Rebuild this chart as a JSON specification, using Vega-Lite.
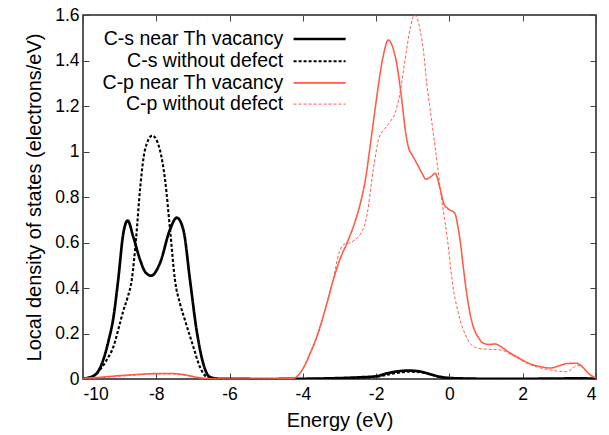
{
  "$schema": "https://vega.github.io/schema/vega-lite/v6.json",
  "width": 513,
  "height": 364,
  "autosize": "none",
  "padding": {"left": 83, "top": 15, "right": 13, "bottom": 56},
  "config": {
    "font": "Liberation Sans",
    "view": {"stroke": "#222222", "strokeWidth": 1.5},
    "axis": {"grid": false, "domain": false, "tickColor": "#444444", "tickWidth": 1, "labelFont": "Liberation Sans", "titleFont": "Liberation Sans", "labelFontSize": 17.5, "titleFontSize": 20, "labelColor": "#000", "titleColor": "#000", "titleFontWeight": "normal"},
    "legend": {"labelFontSize": 19.5, "labelFont": "Liberation Sans", "labelColor": "#000", "labelLimit": 400}
  },
  "datasets": {
    "dos": [
      {"e": -10, "v": 0.002, "s": "C-s near Th vacancy"},
      {"e": -9.8, "v": 0.008, "s": "C-s near Th vacancy"},
      {"e": -9.6, "v": 0.03, "s": "C-s near Th vacancy"},
      {"e": -9.45, "v": 0.083, "s": "C-s near Th vacancy"},
      {"e": -9.3, "v": 0.17, "s": "C-s near Th vacancy"},
      {"e": -9.17, "v": 0.27, "s": "C-s near Th vacancy"},
      {"e": -9.04, "v": 0.435, "s": "C-s near Th vacancy"},
      {"e": -8.9, "v": 0.64, "s": "C-s near Th vacancy"},
      {"e": -8.78, "v": 0.696, "s": "C-s near Th vacancy"},
      {"e": -8.63, "v": 0.626, "s": "C-s near Th vacancy"},
      {"e": -8.44, "v": 0.523, "s": "C-s near Th vacancy"},
      {"e": -8.3, "v": 0.47, "s": "C-s near Th vacancy"},
      {"e": -8.14, "v": 0.454, "s": "C-s near Th vacancy"},
      {"e": -7.9, "v": 0.509, "s": "C-s near Th vacancy"},
      {"e": -7.63, "v": 0.655, "s": "C-s near Th vacancy"},
      {"e": -7.44, "v": 0.709, "s": "C-s near Th vacancy"},
      {"e": -7.26, "v": 0.655, "s": "C-s near Th vacancy"},
      {"e": -7.08, "v": 0.435, "s": "C-s near Th vacancy"},
      {"e": -6.9, "v": 0.215, "s": "C-s near Th vacancy"},
      {"e": -6.72, "v": 0.069, "s": "C-s near Th vacancy"},
      {"e": -6.55, "v": 0.01, "s": "C-s near Th vacancy"},
      {"e": -6.3, "v": 0.001, "s": "C-s near Th vacancy"},
      {"e": -5, "v": 0, "s": "C-s near Th vacancy"},
      {"e": -4, "v": 0.001, "s": "C-s near Th vacancy"},
      {"e": -3, "v": 0.004, "s": "C-s near Th vacancy"},
      {"e": -2.5, "v": 0.007, "s": "C-s near Th vacancy"},
      {"e": -2.0, "v": 0.012, "s": "C-s near Th vacancy"},
      {"e": -1.7, "v": 0.025, "s": "C-s near Th vacancy"},
      {"e": -1.4, "v": 0.034, "s": "C-s near Th vacancy"},
      {"e": -1.1, "v": 0.037, "s": "C-s near Th vacancy"},
      {"e": -0.8, "v": 0.033, "s": "C-s near Th vacancy"},
      {"e": -0.5, "v": 0.02, "s": "C-s near Th vacancy"},
      {"e": -0.2, "v": 0.008, "s": "C-s near Th vacancy"},
      {"e": 0.2, "v": 0.003, "s": "C-s near Th vacancy"},
      {"e": 1, "v": 0.001, "s": "C-s near Th vacancy"},
      {"e": 2, "v": 0.001, "s": "C-s near Th vacancy"},
      {"e": 3, "v": 0.002, "s": "C-s near Th vacancy"},
      {"e": 3.5, "v": 0.003, "s": "C-s near Th vacancy"},
      {"e": 4, "v": 0.001, "s": "C-s near Th vacancy"},

      {"e": -10, "v": 0.001, "s": "C-s without defect"},
      {"e": -9.8, "v": 0.006, "s": "C-s without defect"},
      {"e": -9.54, "v": 0.04, "s": "C-s without defect"},
      {"e": -9.35, "v": 0.085, "s": "C-s without defect"},
      {"e": -9.17, "v": 0.142, "s": "C-s without defect"},
      {"e": -9.0, "v": 0.24, "s": "C-s without defect"},
      {"e": -8.9, "v": 0.3, "s": "C-s without defect"},
      {"e": -8.78, "v": 0.36, "s": "C-s without defect"},
      {"e": -8.67, "v": 0.435, "s": "C-s without defect"},
      {"e": -8.55, "v": 0.62, "s": "C-s without defect"},
      {"e": -8.44, "v": 0.84, "s": "C-s without defect"},
      {"e": -8.31, "v": 1.006, "s": "C-s without defect"},
      {"e": -8.11, "v": 1.07, "s": "C-s without defect"},
      {"e": -7.9, "v": 1.006, "s": "C-s without defect"},
      {"e": -7.76, "v": 0.875, "s": "C-s without defect"},
      {"e": -7.62, "v": 0.65, "s": "C-s without defect"},
      {"e": -7.49, "v": 0.435, "s": "C-s without defect"},
      {"e": -7.35, "v": 0.33, "s": "C-s without defect"},
      {"e": -7.22, "v": 0.26, "s": "C-s without defect"},
      {"e": -6.99, "v": 0.142, "s": "C-s without defect"},
      {"e": -6.85, "v": 0.07, "s": "C-s without defect"},
      {"e": -6.72, "v": 0.025, "s": "C-s without defect"},
      {"e": -6.55, "v": 0.004, "s": "C-s without defect"},
      {"e": -6.3, "v": 0, "s": "C-s without defect"},
      {"e": -4, "v": 0, "s": "C-s without defect"},
      {"e": -3, "v": 0.003, "s": "C-s without defect"},
      {"e": -2, "v": 0.01, "s": "C-s without defect"},
      {"e": -1.5, "v": 0.025, "s": "C-s without defect"},
      {"e": -1.1, "v": 0.032, "s": "C-s without defect"},
      {"e": -0.7, "v": 0.028, "s": "C-s without defect"},
      {"e": -0.3, "v": 0.01, "s": "C-s without defect"},
      {"e": 0.2, "v": 0.002, "s": "C-s without defect"},
      {"e": 1, "v": 0, "s": "C-s without defect"},
      {"e": 4, "v": 0, "s": "C-s without defect"},

      {"e": -10, "v": 0.003, "s": "C-p near Th vacancy"},
      {"e": -9.5, "v": 0.008, "s": "C-p near Th vacancy"},
      {"e": -9, "v": 0.015, "s": "C-p near Th vacancy"},
      {"e": -8.5, "v": 0.02, "s": "C-p near Th vacancy"},
      {"e": -8, "v": 0.024, "s": "C-p near Th vacancy"},
      {"e": -7.6, "v": 0.024, "s": "C-p near Th vacancy"},
      {"e": -7.2, "v": 0.018, "s": "C-p near Th vacancy"},
      {"e": -6.9, "v": 0.008, "s": "C-p near Th vacancy"},
      {"e": -6.6, "v": 0.002, "s": "C-p near Th vacancy"},
      {"e": -6.2, "v": 0, "s": "C-p near Th vacancy"},
      {"e": -5, "v": 0, "s": "C-p near Th vacancy"},
      {"e": -4.5, "v": 0.001, "s": "C-p near Th vacancy"},
      {"e": -4.26, "v": 0.003, "s": "C-p near Th vacancy"},
      {"e": -4.08, "v": 0.025, "s": "C-p near Th vacancy"},
      {"e": -3.95, "v": 0.06, "s": "C-p near Th vacancy"},
      {"e": -3.8, "v": 0.114, "s": "C-p near Th vacancy"},
      {"e": -3.62, "v": 0.186, "s": "C-p near Th vacancy"},
      {"e": -3.4, "v": 0.3, "s": "C-p near Th vacancy"},
      {"e": -3.17, "v": 0.435, "s": "C-p near Th vacancy"},
      {"e": -2.98, "v": 0.53, "s": "C-p near Th vacancy"},
      {"e": -2.8, "v": 0.596, "s": "C-p near Th vacancy"},
      {"e": -2.6, "v": 0.68, "s": "C-p near Th vacancy"},
      {"e": -2.45, "v": 0.76, "s": "C-p near Th vacancy"},
      {"e": -2.3, "v": 0.87, "s": "C-p near Th vacancy"},
      {"e": -2.15, "v": 1.04, "s": "C-p near Th vacancy"},
      {"e": -2.0, "v": 1.22, "s": "C-p near Th vacancy"},
      {"e": -1.89, "v": 1.344, "s": "C-p near Th vacancy"},
      {"e": -1.78, "v": 1.44, "s": "C-p near Th vacancy"},
      {"e": -1.67, "v": 1.49, "s": "C-p near Th vacancy"},
      {"e": -1.55, "v": 1.46, "s": "C-p near Th vacancy"},
      {"e": -1.44, "v": 1.387, "s": "C-p near Th vacancy"},
      {"e": -1.3, "v": 1.226, "s": "C-p near Th vacancy"},
      {"e": -1.2, "v": 1.09, "s": "C-p near Th vacancy"},
      {"e": -1.12, "v": 1.02, "s": "C-p near Th vacancy"},
      {"e": -1.0, "v": 0.98, "s": "C-p near Th vacancy"},
      {"e": -0.89, "v": 0.948, "s": "C-p near Th vacancy"},
      {"e": -0.75, "v": 0.905, "s": "C-p near Th vacancy"},
      {"e": -0.64, "v": 0.878, "s": "C-p near Th vacancy"},
      {"e": -0.5, "v": 0.89, "s": "C-p near Th vacancy"},
      {"e": -0.39, "v": 0.904, "s": "C-p near Th vacancy"},
      {"e": -0.26, "v": 0.84, "s": "C-p near Th vacancy"},
      {"e": -0.15, "v": 0.77, "s": "C-p near Th vacancy"},
      {"e": -0.05, "v": 0.75, "s": "C-p near Th vacancy"},
      {"e": 0.15, "v": 0.728, "s": "C-p near Th vacancy"},
      {"e": 0.22, "v": 0.68, "s": "C-p near Th vacancy"},
      {"e": 0.29, "v": 0.611, "s": "C-p near Th vacancy"},
      {"e": 0.38, "v": 0.49, "s": "C-p near Th vacancy"},
      {"e": 0.47, "v": 0.377, "s": "C-p near Th vacancy"},
      {"e": 0.56, "v": 0.29, "s": "C-p near Th vacancy"},
      {"e": 0.65, "v": 0.23, "s": "C-p near Th vacancy"},
      {"e": 0.8, "v": 0.18, "s": "C-p near Th vacancy"},
      {"e": 0.93, "v": 0.157, "s": "C-p near Th vacancy"},
      {"e": 1.1, "v": 0.152, "s": "C-p near Th vacancy"},
      {"e": 1.24, "v": 0.154, "s": "C-p near Th vacancy"},
      {"e": 1.35, "v": 0.148, "s": "C-p near Th vacancy"},
      {"e": 1.47, "v": 0.135, "s": "C-p near Th vacancy"},
      {"e": 1.65, "v": 0.115, "s": "C-p near Th vacancy"},
      {"e": 1.84, "v": 0.098, "s": "C-p near Th vacancy"},
      {"e": 2.05, "v": 0.078, "s": "C-p near Th vacancy"},
      {"e": 2.29, "v": 0.062, "s": "C-p near Th vacancy"},
      {"e": 2.5, "v": 0.054, "s": "C-p near Th vacancy"},
      {"e": 2.75, "v": 0.048, "s": "C-p near Th vacancy"},
      {"e": 3.0, "v": 0.058, "s": "C-p near Th vacancy"},
      {"e": 3.2, "v": 0.068, "s": "C-p near Th vacancy"},
      {"e": 3.47, "v": 0.069, "s": "C-p near Th vacancy"},
      {"e": 3.6, "v": 0.058, "s": "C-p near Th vacancy"},
      {"e": 3.75, "v": 0.032, "s": "C-p near Th vacancy"},
      {"e": 3.9, "v": 0.012, "s": "C-p near Th vacancy"},
      {"e": 4, "v": 0.005, "s": "C-p near Th vacancy"},

      {"e": -10, "v": 0.002, "s": "C-p without defect"},
      {"e": -9.5, "v": 0.006, "s": "C-p without defect"},
      {"e": -9, "v": 0.012, "s": "C-p without defect"},
      {"e": -8.5, "v": 0.018, "s": "C-p without defect"},
      {"e": -8, "v": 0.022, "s": "C-p without defect"},
      {"e": -7.6, "v": 0.022, "s": "C-p without defect"},
      {"e": -7.2, "v": 0.016, "s": "C-p without defect"},
      {"e": -6.9, "v": 0.007, "s": "C-p without defect"},
      {"e": -6.6, "v": 0.002, "s": "C-p without defect"},
      {"e": -6.2, "v": 0, "s": "C-p without defect"},
      {"e": -5, "v": 0, "s": "C-p without defect"},
      {"e": -4.5, "v": 0.001, "s": "C-p without defect"},
      {"e": -4.26, "v": 0.003, "s": "C-p without defect"},
      {"e": -4.08, "v": 0.025, "s": "C-p without defect"},
      {"e": -3.8, "v": 0.11, "s": "C-p without defect"},
      {"e": -3.62, "v": 0.18, "s": "C-p without defect"},
      {"e": -3.4, "v": 0.3, "s": "C-p without defect"},
      {"e": -3.17, "v": 0.44, "s": "C-p without defect"},
      {"e": -3.0, "v": 0.56, "s": "C-p without defect"},
      {"e": -2.9, "v": 0.589, "s": "C-p without defect"},
      {"e": -2.7, "v": 0.6, "s": "C-p without defect"},
      {"e": -2.53, "v": 0.618, "s": "C-p without defect"},
      {"e": -2.4, "v": 0.645, "s": "C-p without defect"},
      {"e": -2.3, "v": 0.684, "s": "C-p without defect"},
      {"e": -2.2, "v": 0.77, "s": "C-p without defect"},
      {"e": -2.12, "v": 0.875, "s": "C-p without defect"},
      {"e": -2.03, "v": 0.97, "s": "C-p without defect"},
      {"e": -1.94, "v": 1.05, "s": "C-p without defect"},
      {"e": -1.82, "v": 1.09, "s": "C-p without defect"},
      {"e": -1.71, "v": 1.11, "s": "C-p without defect"},
      {"e": -1.6, "v": 1.135, "s": "C-p without defect"},
      {"e": -1.48, "v": 1.17, "s": "C-p without defect"},
      {"e": -1.35, "v": 1.256, "s": "C-p without defect"},
      {"e": -1.25, "v": 1.36, "s": "C-p without defect"},
      {"e": -1.17, "v": 1.446, "s": "C-p without defect"},
      {"e": -1.06, "v": 1.55, "s": "C-p without defect"},
      {"e": -0.96, "v": 1.6, "s": "C-p without defect"},
      {"e": -0.88, "v": 1.585, "s": "C-p without defect"},
      {"e": -0.8, "v": 1.534, "s": "C-p without defect"},
      {"e": -0.7, "v": 1.43, "s": "C-p without defect"},
      {"e": -0.62, "v": 1.3, "s": "C-p without defect"},
      {"e": -0.53, "v": 1.19, "s": "C-p without defect"},
      {"e": -0.44, "v": 1.08, "s": "C-p without defect"},
      {"e": -0.3, "v": 0.904, "s": "C-p without defect"},
      {"e": -0.21, "v": 0.787, "s": "C-p without defect"},
      {"e": -0.12, "v": 0.69, "s": "C-p without defect"},
      {"e": -0.03, "v": 0.582, "s": "C-p without defect"},
      {"e": 0.04, "v": 0.48, "s": "C-p without defect"},
      {"e": 0.11, "v": 0.391, "s": "C-p without defect"},
      {"e": 0.2, "v": 0.32, "s": "C-p without defect"},
      {"e": 0.29, "v": 0.26, "s": "C-p without defect"},
      {"e": 0.42, "v": 0.2, "s": "C-p without defect"},
      {"e": 0.56, "v": 0.157, "s": "C-p without defect"},
      {"e": 0.79, "v": 0.135, "s": "C-p without defect"},
      {"e": 1.0, "v": 0.131, "s": "C-p without defect"},
      {"e": 1.2, "v": 0.13, "s": "C-p without defect"},
      {"e": 1.47, "v": 0.125, "s": "C-p without defect"},
      {"e": 1.65, "v": 0.11, "s": "C-p without defect"},
      {"e": 1.84, "v": 0.094, "s": "C-p without defect"},
      {"e": 2.05, "v": 0.075, "s": "C-p without defect"},
      {"e": 2.29, "v": 0.058, "s": "C-p without defect"},
      {"e": 2.5, "v": 0.048, "s": "C-p without defect"},
      {"e": 2.75, "v": 0.04, "s": "C-p without defect"},
      {"e": 3.0, "v": 0.034, "s": "C-p without defect"},
      {"e": 3.2, "v": 0.032, "s": "C-p without defect"},
      {"e": 3.35, "v": 0.045, "s": "C-p without defect"},
      {"e": 3.47, "v": 0.06, "s": "C-p without defect"},
      {"e": 3.6, "v": 0.056, "s": "C-p without defect"},
      {"e": 3.75, "v": 0.032, "s": "C-p without defect"},
      {"e": 3.9, "v": 0.012, "s": "C-p without defect"},
      {"e": 4, "v": 0.005, "s": "C-p without defect"}
    ]
  },
  "data": {"name": "dos"},
  "layer": [
    {
      "mark": {"type": "line", "interpolate": "monotone", "clip": true},
      "encoding": {
        "x": {"field": "e", "type": "quantitative", "scale": {"domain": [-10, 4], "nice": false},
              "axis": {"orient": "bottom", "values": [-10, -8, -6, -4, -2, 0, 2, 4], "tickSize": -6, "labelPadding": 12, "labelFontSize": 17.5, "labelExpr": "replace(datum.label, '\u2212', '-')", "title": "Energy (eV)", "titleFontSize": 20, "titlePadding": 8}},
        "y": {"field": "v", "type": "quantitative", "scale": {"domain": [0, 1.6], "nice": false},
              "axis": {"orient": "left", "values": [0, 0.2, 0.4, 0.6, 0.8, 1, 1.2, 1.4, 1.6], "tickSize": -6, "labelPadding": 10, "labelFontSize": 17.5, "format": "~g", "title": "Local density of states (electrons/eV)", "titleFontSize": 20, "titlePadding": 10}},
        "color": {"field": "s", "type": "nominal",
                  "scale": {"domain": ["C-s near Th vacancy", "C-s without defect", "C-p near Th vacancy", "C-p without defect"], "range": ["#000000", "#000000", "#ff5c45", "#ff5c45"]},
                  "legend": {"title": null, "orient": "none", "legendX": 224.6, "legendY": 12, "symbolType": "M-2.5,0H2.5", "symbolSize": 433, "labelFontSize": 19.5, "labelAlign": "right", "labelOffset": -48.4, "rowPadding": 0.7, "padding": 0}},
        "strokeDash": {"field": "s", "type": "nominal",
                  "scale": {"domain": ["C-s near Th vacancy", "C-s without defect", "C-p near Th vacancy", "C-p without defect"], "range": [[1, 0], [3, 2], [1, 0], [3, 2]]},
                  "legend": {"title": null, "orient": "none", "legendX": 224.6, "legendY": 12, "symbolType": "M-2.5,0H2.5", "symbolSize": 433, "labelFontSize": 19.5, "labelAlign": "right", "labelOffset": -48.4, "rowPadding": 0.7, "padding": 0}},
        "strokeWidth": {"field": "s", "type": "nominal",
                  "scale": {"domain": ["C-s near Th vacancy", "C-s without defect", "C-p near Th vacancy", "C-p without defect"], "range": [2.7, 1, 2.7, 1]},
                  "legend": {"title": null, "orient": "none", "legendX": 224.6, "legendY": 12, "symbolType": "M-2.5,0H2.5", "symbolSize": 433, "labelFontSize": 19.5, "labelAlign": "right", "labelOffset": -48.4, "rowPadding": 0.7, "padding": 0}}
      }
    },
    {
      "mark": {"type": "point", "opacity": 0},
      "encoding": {
        "x": {"field": "e", "type": "quantitative", "axis": {"orient": "top", "values": [-10, -8, -6, -4, -2, 0, 2, 4], "tickSize": -6, "labels": false, "title": null}},
        "y": {"field": "v", "type": "quantitative", "axis": {"orient": "right", "values": [0, 0.2, 0.4, 0.6, 0.8, 1, 1.2, 1.4, 1.6], "tickSize": -6, "labels": false, "title": null}}
      }
    }
  ],
  "resolve": {"axis": {"x": "independent", "y": "independent"}}
}
